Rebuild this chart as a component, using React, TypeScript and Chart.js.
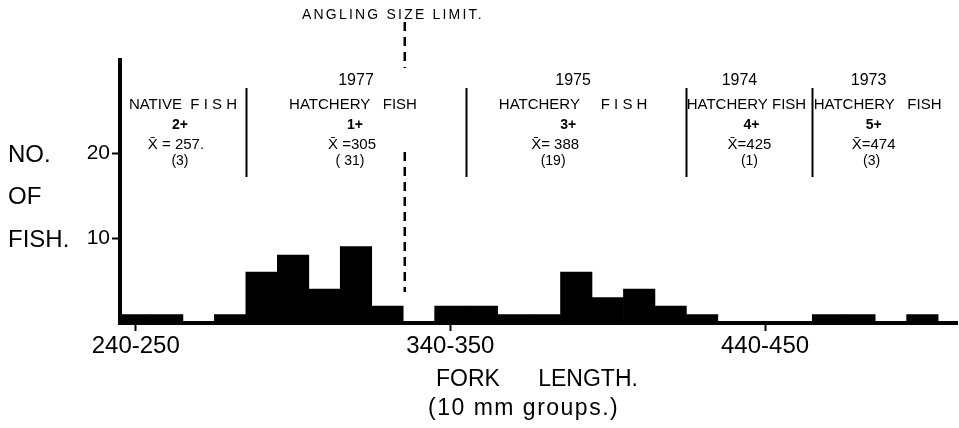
import React, { useEffect, useRef } from 'react';
import { Chart, registerables } from 'chart.js';

Chart.register(...registerables);

// ---- data ----
const binStarts = [240, 250, 260, 270, 280, 290, 300, 310, 320, 330, 340, 350, 360, 370, 380, 390, 400, 410, 420, 430, 440, 450, 460, 470, 480, 490];
const fishCounts = [1, 1, 0, 1, 6, 8, 4, 9, 2, 0, 2, 2, 1, 1, 6, 3, 4, 2, 1, 0, 0, 0, 1, 1, 0, 1];
const xTickCenters = [245, 345, 445];
const xTickLabels = ['240-250', '340-350', '440-450'];
const yTickValues = [10, 20];
const yAxisLabelLines = ['NO.', 'OF', 'FISH.'];
const xTitleLines = ['FORK      LENGTH.', '(10 mm groups.)'];
const sizeLimitLabel = 'ANGLING SIZE LIMIT.';
const sizeLimitMm = 330.5;
const groupBoundariesMm = [280, 350, 420, 460];
const groupCentersMm = [260, 315, 384, 437.5, 479.5];
const groupYears = ['', '1977', '1975', '1974', '1973'];
const groupNames = ['NATIVE  F I S H', 'HATCHERY   FISH', 'HATCHERY     F I S H', 'HATCHERY FISH', 'HATCHERY   FISH'];
const groupAges = ['2+', '1+', '3+', '4+', '5+'];
const groupMeans = ['X\u0304 = 257.', 'X\u0304 =305', 'X\u0304= 388', 'X\u0304=425', 'X\u0304=474'];
const groupCounts = ['(3)', '( 31)', '(19)', '(1)', '(3)'];

const FONT = '"Liberation Sans", Arial, sans-serif';

// per-line horizontal nudges (px) for the hand-lettered blocks: [year, name, age, mean, count]
const lineDx = [
  [0, 0, -3, -7, -3],
  [0, -3, -1, -4, -6],
  [0, 0, -5, -18, -20],
  [-2, 5, 10, 8, 8],
  [-5, 4, 0, 0, -2],
];
const lineY = [81, 105, 125, 145, 161];
const lineFont = ['16px', '15px', 'bold 14px', '15px', '14px'];

const annotationPlugin = {
  id: 'fishAnnotations',
  afterDraw(chart: any) {
    const { ctx, scales } = chart;
    const x = scales.x;
    ctx.save();
    ctx.fillStyle = '#000';
    ctx.strokeStyle = '#000';
    ctx.textBaseline = 'middle';

    // title: angling size limit
    ctx.font = `14px ${FONT}`;
    ctx.textAlign = 'left';
    (ctx as any).letterSpacing = '2.2px';
    ctx.fillText(sizeLimitLabel, 302, 15);
    (ctx as any).letterSpacing = '0px';

    // dashed size limit line
    const lx = x.getPixelForValue(sizeLimitMm);
    ctx.lineWidth = 2.5;
    ctx.setLineDash([9, 6]);
    ctx.beginPath();
    ctx.moveTo(lx, 22);
    ctx.lineTo(lx, 68);
    ctx.moveTo(lx, 152);
    ctx.lineTo(lx, 292);
    ctx.stroke();
    ctx.setLineDash([]);

    // separators
    ctx.lineWidth = 2;
    groupBoundariesMm.forEach((b) => {
      const px = Math.round(x.getPixelForValue(b)) + 0.5;
      ctx.beginPath();
      ctx.moveTo(px, 88);
      ctx.lineTo(px, 177);
      ctx.stroke();
    });

    // group texts
    ctx.textAlign = 'center';
    groupCentersMm.forEach((c, gi) => {
      const cx = x.getPixelForValue(c);
      const lines = [groupYears[gi], groupNames[gi], groupAges[gi], groupMeans[gi], groupCounts[gi]];
      lines.forEach((t, li) => {
        if (!t) return;
        ctx.font = `${lineFont[li]} ${FONT}`;
        ctx.fillText(t, cx + lineDx[gi][li], lineY[li]);
      });
    });

    // y axis label
    ctx.textAlign = 'left';
    ctx.font = `24px ${FONT}`;
    const yl = [155, 197, 240];
    yAxisLabelLines.forEach((t, i) => ctx.fillText(t, 8, yl[i]));

    // x axis title
    ctx.font = `23px ${FONT}`;
    ctx.fillText(xTitleLines[0], 436, 380);
    (ctx as any).letterSpacing = '1.5px';
    ctx.fillText(xTitleLines[1], 428, 409);
    (ctx as any).letterSpacing = '0px';

    ctx.restore();
  },
};

export default function App() {
  const ref = useRef<HTMLCanvasElement>(null);
  useEffect(() => {
    if (!ref.current) return;
    const chart = new Chart(ref.current, {
      type: 'bar',
      data: {
        datasets: [
          {
            data: binStarts.map((b, i) => ({ x: b + 5, y: fishCounts[i] })),
            backgroundColor: '#000',
            borderWidth: 0,
            barPercentage: 1,
            categoryPercentage: 1,
          } as any,
        ],
      },
      options: {
        responsive: false,
        animation: false,
        devicePixelRatio: 1,
        layout: { padding: { top: 60, right: 2, left: 0, bottom: 0 } },
        plugins: { legend: { display: false }, tooltip: { enabled: false }, title: { display: false } },
        scales: {
          x: {
            type: 'linear',
            min: 240,
            max: 506,
            offset: false,
            afterBuildTicks: (s: any) => {
              s.ticks = xTickCenters.map((v) => ({ value: v }));
            },
            afterFit: (s: any) => {
              s.height = 105;
            },
            grid: { display: true, offset: false, drawOnChartArea: false, drawTicks: true, tickLength: 8, tickWidth: 2, tickColor: '#000' },
            border: { display: true, color: '#000', width: 4 },
            ticks: {
              color: '#000',
              font: { family: FONT, size: 24 },
              padding: 1,
              maxRotation: 0,
              autoSkip: false,
              callback: (v: any) => {
                const i = xTickCenters.indexOf(Number(v));
                return i >= 0 ? xTickLabels[i] : '';
              },
            },
          },
          y: {
            type: 'linear',
            min: 0,
            max: 31,
            afterBuildTicks: (s: any) => {
              s.ticks = yTickValues.map((v) => ({ value: v }));
            },
            afterFit: (s: any) => {
              s.width = 120;
            },
            grid: { display: true, offset: false, drawOnChartArea: false, drawTicks: true, tickLength: 8, tickWidth: 2, tickColor: '#000' },
            border: { display: true, color: '#000', width: 4 },
            ticks: { color: '#000', font: { family: FONT, size: 21 }, padding: 2 },
          },
        },
      } as any,
      plugins: [annotationPlugin],
    });
    return () => chart.destroy();
  }, []);
  return (
    <div style={{ position: 'fixed', left: 0, top: 0, width: 959, height: 428, background: '#fff' }}>
      <canvas ref={ref} width={959} height={428} style={{ width: 959, height: 428, display: 'block' }} />
    </div>
  );
}
